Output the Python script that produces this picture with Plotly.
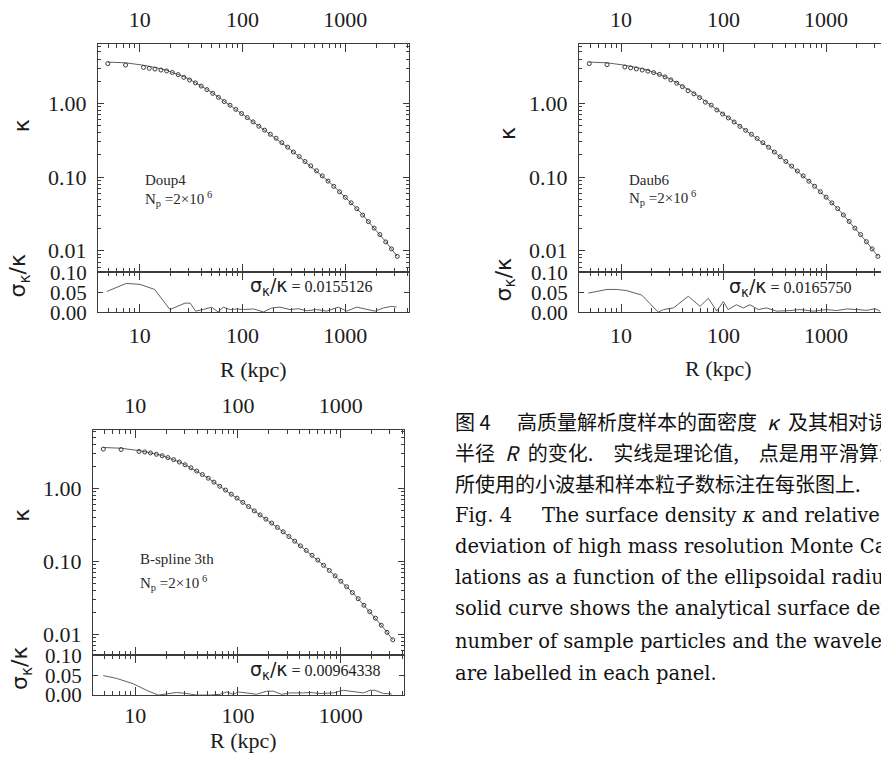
import plotly.graph_objects as go

W, H = 881, 772

# Ellipsoidal radius R (kpc) of the sampled bins
R = [4.9, 7.3, 10.9, 12.4, 14.1, 16.1, 18.3, 20.8, 23.7, 26.9, 30.6, 34.9,
     39.7, 45.1, 51.4, 58.4, 66.5, 75.7, 86.1, 98.0, 111.5, 126.8, 144.3,
     164.2, 186.9, 212.6, 241.9, 275.3, 313.3, 356.5, 405.6, 461.6, 525.2,
     597.7, 680.1, 773.9, 880.6, 1002, 1140, 1297, 1476, 1680, 1911, 2175,
     2475, 2816, 3204]

# Analytical surface density
kappa_theory = [3.64, 3.56, 3.30, 3.20, 3.09, 2.96, 2.82, 2.66, 2.49, 2.31,
                2.12, 1.92, 1.73, 1.55, 1.38, 1.22, 1.07, 0.950, 0.835, 0.735,
                0.645, 0.565, 0.493, 0.433, 0.380, 0.336, 0.293, 0.254, 0.219,
                0.189, 0.163, 0.141, 0.121, 0.104, 0.0885, 0.0752, 0.0634,
                0.0534, 0.0449, 0.0374, 0.0307, 0.0250, 0.0204, 0.0166,
                0.0133, 0.0106, 0.0084]

# Smoothed Monte Carlo estimates for each wavelet basis
kappa_doup4 = [3.47, 3.32, 3.08, 3.00, 2.93, 2.84, 2.76, 2.63, 2.46, 2.26,
               2.08, 1.90, 1.72, 1.54, 1.37, 1.21, 1.06, 0.945, 0.830, 0.730,
               0.642, 0.562, 0.490, 0.434, 0.381, 0.337, 0.294, 0.255, 0.219,
               0.190, 0.163, 0.142, 0.122, 0.104, 0.0883, 0.0750, 0.0632,
               0.0532, 0.0448, 0.0373, 0.0305, 0.0249, 0.0203, 0.0166,
               0.0132, 0.0106, 0.0084]
kappa_daub6 = [3.47, 3.36, 3.12, 3.04, 2.94, 2.84, 2.74, 2.62, 2.48, 2.29,
               2.09, 1.88, 1.69, 1.49, 1.35, 1.20, 1.04, 0.948, 0.815, 0.717,
               0.635, 0.560, 0.488, 0.431, 0.381, 0.335, 0.293, 0.254, 0.219,
               0.189, 0.163, 0.141, 0.121, 0.104, 0.0880, 0.0752, 0.0633,
               0.0534, 0.0447, 0.0374, 0.0306, 0.0250, 0.0203, 0.0166,
               0.0133, 0.0106, 0.0084]
kappa_bspline3 = [3.46, 3.42, 3.22, 3.16, 3.07, 2.94, 2.81, 2.65, 2.48, 2.30,
                  2.11, 1.92, 1.73, 1.55, 1.38, 1.22, 1.07, 0.950, 0.833,
                  0.735, 0.644, 0.564, 0.492, 0.433, 0.379, 0.335, 0.292,
                  0.254, 0.219, 0.189, 0.163, 0.141, 0.121, 0.104, 0.0882,
                  0.0750, 0.0632, 0.0533, 0.0449, 0.0373, 0.0307, 0.0250,
                  0.0204, 0.0166, 0.0133, 0.0106, 0.0084]

# Relative deviation sigma_kappa / kappa
sig_R_doup4 = [4.8, 7.4, 10.1, 14, 19.7, 27.6, 31, 35, 41.5, 50, 58, 65, 76,
               88, 102, 128, 160, 193, 232, 290, 349, 422, 527, 660, 857,
               1033, 1291, 1617, 1950, 2345, 2830, 3160]
sig_doup4 = [0.052, 0.072, 0.0695, 0.057, 0.007, 0.023, 0.023, 0.003, 0.007,
             0.013, 0.001, 0.013, 0.007, 0.0085, 0.007, 0.0085, 0.001, 0.011,
             0.013, 0.007, 0.009, 0.004, 0.007, 0.003, 0.013, 0.003, 0.013,
             0.007, 0.003, 0.011, 0.015, 0.013]
sig_R_daub6 = [4.8, 7.3, 9.1, 11.4, 15.9, 23.1, 25.9, 32.4, 45.3, 59, 71, 86,
               99.5, 111, 134, 156, 181, 218, 263, 330, 445, 557, 751, 1014,
               1270, 1592, 1992, 2494, 3008, 3365]
sig_daub6 = [0.048, 0.057, 0.057, 0.054, 0.043, 0.0005, 0.007, 0.011, 0.040,
             0.015, 0.035, 0.003, 0.027, 0.007, 0.019, 0.011, 0.019, 0.007,
             0.011, 0.003, 0.0045, 0.007, 0.003, 0.007, 0.0045, 0.0085,
             0.007, 0.005, 0.009, 0.003]
sig_R_bspline3 = [4.9, 6.6, 9.6, 12.9, 16.8, 21, 25.3, 31.7, 39.6, 53.5, 67,
                  78, 90, 101, 122, 152, 190, 221, 266, 321, 432, 501, 628,
                  847, 1059, 1325, 1660, 1927, 2155, 2595, 3130]
sig_bspline3 = [0.049, 0.042, 0.0285, 0.012, 0.0, 0.004, 0.0065, 0.004, 0.0,
                0.0, 0.002, 0.008, 0.002, 0.008, 0.0055, 0.002, 0.0098,
                0.0098, 0.002, 0.0055, 0.0055, 0.0065, 0.004, 0.0055, 0.012,
                0.008, 0.0055, 0.012, 0.012, 0.004, 0.003]

basis_names = ["Doup4", "Daub6", "B-spline 3th"]
sigma_mean = ["0.0155126", "0.0165750", "0.00964338"]

# Axis ticks
x_major = [10, 100, 1000]
x_major_text = ["10", "100", "1000"]
x_minor = [5, 6, 7, 8, 9, 20, 30, 40, 50, 60, 70, 80, 90, 200, 300, 400, 500,
           600, 700, 800, 900, 2000, 3000, 4000]
k_major = [0.01, 0.1, 1]
k_major_text = ["0.01", "0.10", "1.00"]
k_minor = [0.006, 0.007, 0.008, 0.009, 0.02, 0.03, 0.04, 0.05, 0.06, 0.07,
           0.08, 0.09, 0.2, 0.3, 0.4, 0.5, 0.6, 0.7, 0.8, 0.9, 2, 3, 4, 5, 6]
s_major = [0, 0.05, 0.1]
s_major_text = ["0.00", "0.05", "0.10"]


def fx(px):
    return px / W


def fy(py):
    return 1 - py / H


AX = "#3c3c3c"
LINE = "#606060"
TXT = "#1c1c1c"
SERIF = "Liberation Serif"
tick_font = dict(family=SERIF, size=22, color=TXT)
resid_tick_font = dict(family=SERIF, size=21, color=TXT)

# pixel frame of each panel: left, right, top, split, bottom, x-range (log10)
panels = [
    dict(l=98, r=409, t=33, m=268.5, b=310, xr=[0.595, 3.62], mirror_y=True,
         pts=kappa_doup4, sr=sig_R_doup4, s=sig_doup4, bstand=3,
         klab=(21, 118), slab=(20, 273), title=(253, 369),
         name=(143, 173), np_=(143, 193), sig=(248, 283)),
    dict(l=579, r=881, t=33, m=268.5, b=310, xr=[0.59, 3.536], mirror_y=False,
         pts=kappa_daub6, sr=sig_R_daub6, s=sig_daub6, bstand=3,
         klab=(507, 125), slab=(505, 277), title=(718, 368),
         name=(627, 173), np_=(627, 192), sig=(727, 284)),
    dict(l=93, r=404, t=431, m=664, b=705, xr=[0.59, 3.615], mirror_y=True,
         pts=kappa_bspline3, sr=sig_R_bspline3, s=sig_bspline3, bstand=1,
         klab=(22, 520), slab=(22, 678), title=(243, 752),
         name=(138, 565), np_=(138, 589), sig=(248, 680)),
]

fig = go.Figure()
layout = {}
annotations = []


def ann(text, pos, size, family=SERIF, xanchor="left", angle=0, color=TXT):
    annotations.append(dict(text=text, x=fx(pos[0]), y=fy(pos[1]),
                            xref="paper", yref="paper", xanchor=xanchor,
                            yanchor="middle", showarrow=False,
                            textangle=angle,
                            font=dict(family=family, size=size, color=color)))


for i, p in enumerate(panels):
    m = 2 * i + 1
    r = 2 * i + 2
    xm, ym = ("x", "y") if m == 1 else (f"x{m}", f"y{m}")
    xr_, yr_ = f"x{r}", f"y{r}"

    fig.add_trace(go.Scatter(x=R, y=kappa_theory, mode="lines",
                             line=dict(color=LINE, width=1),
                             xaxis=xm, yaxis=ym, showlegend=False))
    fig.add_trace(go.Scatter(x=R, y=p["pts"], mode="markers",
                             marker=dict(symbol="circle-open", size=4,
                                         color="#3a3a3a", line=dict(width=1)),
                             xaxis=xm, yaxis=ym, showlegend=False))
    fig.add_trace(go.Scatter(x=p["sr"], y=p["s"], mode="lines",
                             line=dict(color=LINE, width=1),
                             xaxis=xr_, yaxis=yr_, showlegend=False))

    common_x = dict(type="log", range=p["xr"], domain=[fx(p["l"]), fx(p["r"])],
                    tickvals=x_major, ticktext=x_major_text, ticks="inside",
                    ticklen=8, tickcolor=AX, tickwidth=1, showline=True,
                    linecolor=AX, linewidth=1, mirror="ticks", showgrid=False,
                    zeroline=False, tickfont=tick_font,
                    minor=dict(tickvals=x_minor, ticks="inside", ticklen=4,
                               tickcolor=AX, showgrid=False))
    layout["xaxis" + ("" if m == 1 else str(m))] = dict(
        common_x, side="top", anchor=ym, ticklabelstandoff=7)
    layout[f"xaxis{r}"] = dict(common_x, side="bottom", anchor=yr_,
                               ticklabelstandoff=p["bstand"])

    mir = "ticks" if p["mirror_y"] else False
    layout["yaxis" + ("" if m == 1 else str(m))] = dict(
        type="log", range=[-2.29, 0.807], domain=[fy(p["m"]), fy(p["t"])],
        anchor=xm, tickvals=k_major, ticktext=k_major_text, ticks="inside",
        ticklen=6, tickcolor=AX, showline=True, linecolor=AX, linewidth=1,
        mirror=mir, showgrid=False, zeroline=False, tickfont=tick_font,
        ticklabelstandoff=6,
        minor=dict(tickvals=k_minor, ticks="inside", ticklen=3, tickcolor=AX,
                   showgrid=False))
    layout[f"yaxis{r}"] = dict(
        range=[0, 0.1], domain=[fy(p["b"]), fy(p["m"])], anchor=xr_,
        tickvals=s_major, ticktext=s_major_text, ticks="inside", ticklen=5,
        tickcolor=AX, showline=True, linecolor=AX, linewidth=1, mirror=mir,
        showgrid=False, zeroline=False, tickfont=resid_tick_font,
        ticklabelstandoff=6)

    ann("κ", p["klab"], 22, family="DejaVu Sans", xanchor="center", angle=-90)
    ann("σ<sub>κ</sub>/κ", p["slab"], 22, family="DejaVu Sans",
        xanchor="center", angle=-90)
    ann("R (kpc)", p["title"], 22, xanchor="center")
    ann(basis_names[i], p["name"], 15, color="#2a2a2a")
    ann("N<sub>p</sub> =2×10<sup> 6</sup>", p["np_"], 15, color="#2a2a2a")
    ann("<span style='font-family:DejaVu Sans;font-size:19px'>σ<sub>κ</sub>/κ</span>"
        f" = {sigma_mean[i]}", p["sig"], 16)

# Caption (runs past the right edge of the page)
CJK = "Noto Sans CJK SC"
CM = "DejaVu Serif"
EN = "\u2002"
EM = "\u2003"
cap = [
    ("图 4", 453, 423, CJK, 20),
    (f"高质量解析度样本的面密度{EN}<i>κ</i>{EN}及其相对误差随椭球", 515, 423, CJK, 20),
    (f"半径{EN}<i>R</i>{EN}的变化.{EM}实线是理论值,{EM}点是用平滑算法得到的结果.", 453, 455, CJK, 20),
    ("所使用的小波基和样本粒子数标注在每张图上.", 453, 487, CJK, 20),
    ("Fig. 4", 453, 520, CM, 19.5),
    ("The surface density <i>κ</i> and relative standard", 540, 520, CM, 19.5),
    ("deviation of high mass resolution Monte Carlo simu-", 453, 552, CM, 19.5),
    ("lations as a function of the ellipsoidal radius <i>R</i>. The", 453, 584, CM, 19.5),
    ("solid curve shows the analytical surface density. The", 453, 616, CM, 19.5),
    ("number of sample particles and the wavelet bases", 453, 650, CM, 19.5),
    ("are labelled in each panel.", 453, 683, CM, 19.5),
]
for text, x, y, fam, size in cap:
    ann(text, (x, y), size, family=fam, color="#111111")

fig.update_layout(width=W, height=H, margin=dict(l=0, r=0, t=0, b=0),
                  paper_bgcolor="white", plot_bgcolor="white",
                  annotations=annotations, **layout)

fig.write_html("out.html")
